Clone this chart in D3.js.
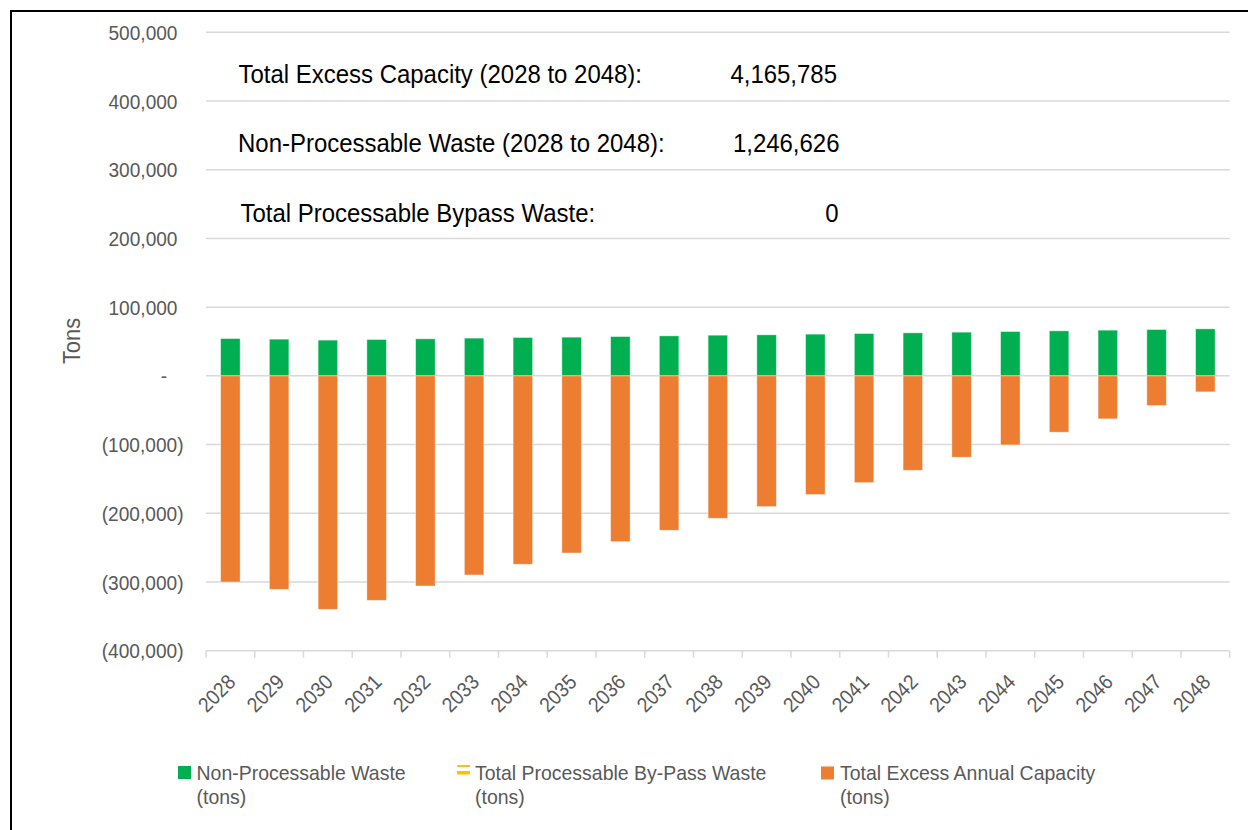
<!DOCTYPE html>
<html><head><meta charset="utf-8">
<script src="https://cdn.jsdelivr.net/npm/d3@7"></script>
<style>
html,body{margin:0;padding:0;background:#fff;}
svg{display:block;}
text{font-family:"Liberation Sans","Arial",sans-serif;}
</style></head><body>
<svg id="chart" width="1248" height="830"></svg>
<script>
// ---- data ----
const years = ["2028","2029","2030","2031","2032","2033","2034","2035","2036","2037","2038",
               "2039","2040","2041","2042","2043","2044","2045","2046","2047","2048"];
const nonProcessable = [54300,53400,52000,52900,53900,54900,55800,56300,57200,58200,59200,
                        59700,60700,61600,62600,63600,64500,65500,66500,67400,68400];
const bypassWaste = [0,0,0,0,0,0,0,0,0,0,0,0,0,0,0,0,0,0,0,0,0];
const excessCapacity = [-300000,-310700,-339800,-326700,-305800,-289800,-274200,-257800,-241300,-224700,-207300,
                        -190300,-172800,-155400,-137400,-118400,-100500,-82000,-62600,-43200,-23300];
const yTicks = [500000,400000,300000,200000,100000,0,-100000,-200000,-300000,-400000];
const seriesKeys = ["nonProcessable","bypass","excess"];
const seriesLabels = [["Non-Processable Waste","(tons)"],["Total Processable By-Pass Waste","(tons)"],["Total Excess Annual Capacity","(tons)"]];
const seriesColors = ["#00B050","#FFC000","#ED7D31"];
const summaryLabels = ["Total Excess Capacity (2028 to 2048):","Non-Processable Waste (2028 to 2048):","Total Processable Bypass Waste:"];
const summaryValues = ["4,165,785","1,246,626","0"];
const yTitle = "Tons";

// ---- setup ----
const svg = d3.select("#chart");
const x = d3.scaleBand().domain(years).range([206, 1229.7]).padding(0);
const y = d3.scaleLinear().domain([-400000, 500000]).range([650.7, 32.3]);
const barW = x.bandwidth() * 0.4;

function stext(g, px, py, str, o) {
  const t = g.append("text")
    .attr("transform", `translate(${px},${py}) scale(${o.sx || 1},1)`)
    .attr("font-size", o.size)
    .attr("fill", o.fill || "#595959")
    .attr("text-anchor", o.anchor || "start")
    .text(str);
  if (o.dy) t.attr("dy", o.dy);
  return t;
}

// border
svg.append("path").attr("d", "M11,830 L11,11 L1248,11").attr("fill", "none")
  .attr("stroke", "#000").attr("stroke-width", 2);

// gridlines
svg.append("g").selectAll("line").data(yTicks.filter(v => v > -400000)).join("line")
  .attr("x1", 206).attr("x2", 1229.7)
  .attr("y1", d => y(d)).attr("y2", d => y(d))
  .attr("stroke", "#d9d9d9").attr("stroke-width", 1.5);

// y tick labels
const fmt = d3.format(",");
const yl = svg.append("g");
yTicks.forEach(v => {
  let s, ax;
  if (v === 0) { s = "-"; ax = 167; }
  else if (v < 0) { s = "(" + fmt(-v) + ")"; ax = 183.5; }
  else { s = fmt(v); ax = 177.5; }
  stext(yl, ax, y(v), s, {size: 21, sx: 0.91, anchor: "end", dy: "0.36em"});
});

// y title
svg.append("text").attr("transform", "translate(80,341) rotate(-90) scale(0.95,1)")
  .attr("text-anchor", "middle").attr("font-size", 23).attr("fill", "#595959").text(yTitle);

// bars (stacked, diverging)
const rows = years.map((yr, i) => ({year: yr, nonProcessable: nonProcessable[i], bypass: bypassWaste[i], excess: excessCapacity[i]}));
const stack = d3.stack().keys(seriesKeys).offset(d3.stackOffsetDiverging)(rows);
svg.append("g").selectAll("g").data(stack).join("g")
  .attr("fill", (d, i) => seriesColors[i])
  .selectAll("rect").data(d => d.filter(p => p[1] !== p[0])).join("rect")
  .attr("x", d => x(d.data.year) + (x.bandwidth() - barW) / 2)
  .attr("width", barW)
  .attr("y", d => y(Math.max(d[0], d[1])))
  .attr("height", d => Math.abs(y(d[0]) - y(d[1])))
  .attr("stroke", "#fff").attr("stroke-opacity", 0.5).attr("stroke-width", 0.8);

// x axis line + ticks
const xa = svg.append("g").attr("stroke", "#d9d9d9").attr("stroke-width", 1.5);
xa.append("line").attr("x1", 206).attr("x2", 1229.7).attr("y1", y(-400000)).attr("y2", y(-400000));
const bounds = years.map(d => x(d)).concat([x(years[years.length - 1]) + x.bandwidth()]);
xa.selectAll("line.t").data(bounds).join("line").attr("class", "t")
  .attr("x1", d => d).attr("x2", d => d).attr("y1", y(-400000)).attr("y2", y(-400000) + 7);

// x labels
svg.append("g").selectAll("text").data(years).join("text")
  .attr("transform", d => `translate(${x(d) + x.bandwidth() / 2 + 1},678) rotate(-45) scale(0.91,1)`)
  .attr("text-anchor", "end").attr("dy", "0.36em").attr("font-size", 21).attr("fill", "#595959")
  .text(d => d);

// summary annotation
const ann = svg.append("g");
const annY = [83, 152, 221.5];
const annX = [238.5, 238, 240.5];
const valX = [837, 839.5, 838.5];
summaryLabels.forEach((s, i) => {
  stext(ann, annX[i], annY[i], s, {size: 25.5, sx: 0.94, fill: "#000"});
  stext(ann, valX[i], annY[i], summaryValues[i], {size: 25.5, sx: 0.94, fill: "#000", anchor: "end"});
});

// legend
const lg = svg.append("g");
const legX = [178, 457, 821];
const legTextX = [196.5, 475, 840];
lg.append("rect").attr("x", legX[0]).attr("y", 766).attr("width", 13).attr("height", 13).attr("fill", seriesColors[0]);
lg.append("rect").attr("x", legX[1]).attr("y", 765).attr("width", 13).attr("height", 2).attr("fill", seriesColors[1]);
lg.append("rect").attr("x", legX[1]).attr("y", 771).attr("width", 13).attr("height", 3.5).attr("fill", seriesColors[1]);
lg.append("rect").attr("x", legX[2]).attr("y", 766.5).attr("width", 13).attr("height", 13).attr("fill", seriesColors[2]);
seriesLabels.forEach((lines, i) => {
  lines.forEach((ln, j) => stext(lg, legTextX[i], 780 + j * 24, ln, {size: 20.5, sx: 0.95}));
});
</script></body></html>
